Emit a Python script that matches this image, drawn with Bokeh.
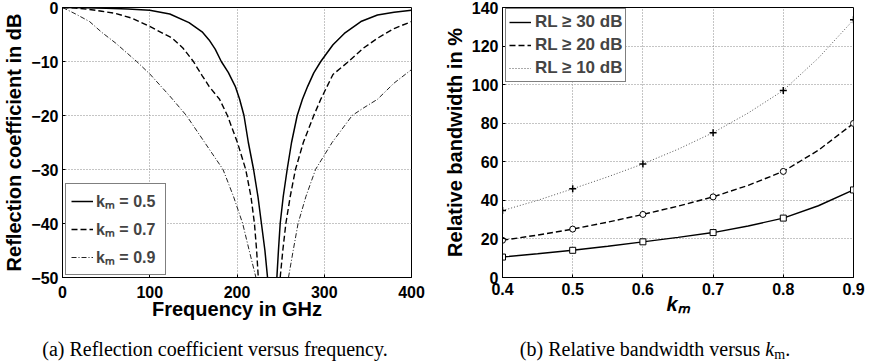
from bokeh.plotting import figure
from bokeh.models import Legend, LegendItem, FixedTicker, Range1d, Div
from bokeh.layouts import row, column
from bokeh.embed import file_html
from bokeh.resources import INLINE

# ---------------- (a) reflection coefficient vs frequency ----------------
km_values = [0.5, 0.7, 0.9]

freq_05_lo = [0, 25, 50, 75, 100, 123, 145, 160, 168, 175, 182, 190, 198, 203, 208, 213, 219, 224, 228, 232, 235]
rc_05_lo = [0, -0.03, -0.12, -0.28, -0.5, -1.2, -2.8, -4.5, -6, -7.7, -10, -12, -14.6, -17, -20, -25, -30, -35, -40, -45, -50]
freq_05_hi = [245.7, 247.5, 249.5, 253, 257.5, 262.5, 269, 275, 281, 288, 296, 310, 323, 342, 361, 380, 400]
rc_05_hi = [-50, -45, -40, -35, -30, -25, -20, -17, -14.6, -12.1, -10, -6.9, -4.8, -2.6, -1.4, -0.9, -0.5]

freq_07_lo = [0, 15, 31, 45, 61, 80, 100, 126, 138, 150, 160, 168, 180, 189, 200.5, 210, 216, 220, 222.5, 224.4]
rc_07_lo = [0, -0.1, -0.36, -0.7, -1.1, -2.0, -3.5, -5.7, -7.5, -10, -12.6, -14.6, -17, -20, -25, -30, -35, -40, -45, -50]
freq_07_hi = [249.5, 252.5, 256, 261, 267, 276, 288, 296, 310, 328, 345, 361, 380, 400]
rc_07_hi = [-50, -45, -40, -35, -30, -25, -20, -17, -12.4, -10, -7.5, -5.7, -3.9, -2.6]

freq_09_lo = [0, 15, 31, 45, 61, 85, 100, 123, 142, 163, 184, 196, 206.5, 214, 221.7]
rc_09_lo = [0, -1.2, -2.6, -4.6, -6.6, -10, -12.3, -16.4, -20, -25, -30, -35, -40, -45, -50]
freq_09_hi = [259, 264.4, 270, 279, 290, 309, 332, 345, 361, 380, 400]
rc_09_hi = [-50, -45, -40, -35, -30, -25, -20, -18.6, -17, -14, -11.5]

freq_ticks = [0, 100, 200, 300, 400]
rc_ticks = [-50, -40, -30, -20, -10, 0]
rc_tick_labels = ["\u221250", "\u221240", "\u221230", "\u221220", "\u221210", "0"]

# ---------------- (b) relative bandwidth vs k_m ----------------
km_pts = [0.4, 0.5, 0.6, 0.7, 0.8, 0.9]
bw_rl30 = [10.6, 14.1, 18.5, 23.3, 30.8, 45.4]
bw_rl20 = [19.3, 25.1, 32.7, 41.8, 55.0, 79.9]
bw_rl10 = [34.7, 46.0, 58.9, 75.1, 97.0, 133.6]

km_curve = [0.4, 0.45, 0.5, 0.55, 0.6, 0.65, 0.7, 0.75, 0.8, 0.85, 0.9]
bw_rl30_curve = [10.6, 12.3, 14.1, 16.2, 18.5, 20.8, 23.3, 26.7, 30.8, 37.2, 45.4]
bw_rl20_curve = [19.3, 22.0, 25.1, 28.7, 32.7, 37.0, 41.8, 47.8, 55.0, 66.0, 79.9]
bw_rl10_curve = [34.7, 40.0, 46.0, 52.2, 58.9, 66.5, 75.1, 85.3, 97.0, 113.8, 133.6]

rl_levels = [30, 20, 10]
km_ticks = [0.4, 0.5, 0.6, 0.7, 0.8, 0.9]
bw_ticks = [0, 20, 40, 60, 80, 100, 120, 140]

SANS = "Liberation Sans"
SERIF = "Liberation Serif"


def style(p, xticks, yticks, ylabels=None):
    p.outline_line_color = "black"
    p.outline_line_width = 1
    p.background_fill_color = "white"
    p.border_fill_color = "white"
    for ax in (p.xaxis[0], p.yaxis[0]):
        ax.axis_line_color = "black"
        ax.major_tick_in = 3
        ax.major_tick_out = 0
        ax.minor_tick_line_color = None
        ax.major_tick_line_color = "black"
        ax.major_label_text_font = SANS
        ax.major_label_text_font_style = "bold"
        ax.major_label_text_font_size = "16px"
        ax.major_label_text_color = "black"
        ax.axis_label_text_font = SANS
        ax.axis_label_text_font_style = "bold"
        ax.axis_label_text_font_size = "20px"
        ax.axis_label_text_color = "black"
    p.xaxis[0].ticker = FixedTicker(ticks=xticks)
    p.yaxis[0].ticker = FixedTicker(ticks=yticks)
    p.yaxis[0].major_label_standoff = 4
    p.yaxis[0].axis_label_standoff = 3
    if ylabels is not None:
        p.yaxis[0].major_label_overrides = {t: s for t, s in zip(yticks, ylabels)}
    for g in (p.xgrid[0], p.ygrid[0]):
        g.grid_line_color = "#8a8a8a"
        g.grid_line_dash = "1 2"
        g.grid_line_width = 1


# ---------------- figure (a) ----------------
pa = figure(width=440, height=325, min_border_left=61, min_border_right=29,
            min_border_top=7, min_border_bottom=48, x_range=Range1d(0, 400), y_range=Range1d(-50, 0),
            output_backend="svg", toolbar_location=None)
style(pa, freq_ticks, rc_ticks, rc_tick_labels)
pa.xaxis[0].major_label_standoff = 8
pa.xaxis[0].axis_label_standoff = -3
pa.xaxis[0].axis_label = "Frequency in GHz"
pa.yaxis[0].axis_label = "Reflection coefficient in dB"

ra1 = pa.multi_line(xs=[freq_05_lo, freq_05_hi], ys=[rc_05_lo, rc_05_hi], line_color="black", line_width=1.5)
ra2 = pa.multi_line(xs=[freq_07_lo, freq_07_hi], ys=[rc_07_lo, rc_07_hi], line_color="black", line_width=1.4,
                    line_dash="6 3")
ra3 = pa.multi_line(xs=[freq_09_lo, freq_09_hi], ys=[rc_09_lo, rc_09_hi], line_color="#222222", line_width=1.0,
                    line_dash="5 2 1 2")

leg_a = Legend(items=[LegendItem(label="k\u2098 = %.1f" % kv, renderers=[r])
                      for kv, r in zip(km_values, (ra1, ra2, ra3))],
               location=(3, 2), padding=5, glyph_width=22, glyph_height=24, label_standoff=3,
               spacing=4, label_width=64, label_height=24, margin=0,
               label_text_font=SANS, label_text_font_style="bold", label_text_font_size="16px",
               label_text_baseline="alphabetic",
               border_line_color="black", border_line_width=1, background_fill_color="white",
               background_fill_alpha=1.0)
pa.add_layout(leg_a)

# ---------------- figure (b) ----------------
pb = figure(width=441, height=325, min_border_left=61, min_border_right=28,
            min_border_top=7, min_border_bottom=48, x_range=Range1d(0.4, 0.9), y_range=Range1d(0, 140),
            output_backend="svg", toolbar_location=None)
style(pb, km_ticks, bw_ticks)
pb.xaxis[0].major_label_standoff = 5
pb.xaxis[0].axis_label_standoff = -5
pb.xaxis[0].axis_label = "k\u2098"
pb.xaxis[0].axis_label_text_font_style = "bold italic"
pb.yaxis[0].axis_label = "Relative bandwidth in %"

rb1 = pb.line(km_curve, bw_rl30_curve, line_color="black", line_width=1.4)
rb2 = pb.line(km_curve, bw_rl20_curve, line_color="black", line_width=1.4, line_dash="6 3")
rb3 = pb.line(km_curve, bw_rl10_curve, line_color="#555555", line_width=1.0, line_dash="1 2")
pb.scatter(km_pts, bw_rl30, marker="square", size=6, line_color="black", fill_color="white", line_width=1)
pb.scatter(km_pts, bw_rl20, marker="circle", size=6, line_color="black", fill_color="white", line_width=1)
pb.scatter(km_pts, bw_rl10, marker="cross", size=7, line_color="black", line_width=1.5)

leg_b = Legend(items=[LegendItem(label="RL \u2265 %d dB" % lv, renderers=[r])
                      for lv, r in zip(rl_levels, (rb1, rb2, rb3))],
               location=(3, 195), padding=3, glyph_width=22, glyph_height=20, label_standoff=4,
               spacing=3, label_height=20, margin=0,
               label_text_font=SANS, label_text_font_style="bold", label_text_font_size="17px",
               border_line_color="black", border_line_width=1, background_fill_color="white",
               background_fill_alpha=1.0)
pb.add_layout(leg_b)

# ---------------- captions ----------------
caption_a = "(a) Reflection coefficient versus frequency."
caption_b = "(b) Relative bandwidth versus <i>k</i><span style=\"font-size:14px;vertical-align:-3px\">m</span>."
cap_html = (
    "<div style=\"position:relative;width:881px;height:38px;margin:0;padding:0;"
    "font-family:'Liberation Serif',serif;font-size:20px;line-height:20px;color:#000;\">"
    "<div style=\"position:absolute;left:0px;top:14px;width:430px;text-align:center;white-space:nowrap;\">%s</div>"
    "<div style=\"position:absolute;left:440px;top:14px;width:430px;text-align:center;white-space:nowrap;\">%s</div>"
    "</div>" % (caption_a, caption_b)
)
cap = Div(text=cap_html, width=881, height=38, margin=0)

layout = column(row(pa, pb), cap)
open("out.html", "w").write(file_html(layout, INLINE))
